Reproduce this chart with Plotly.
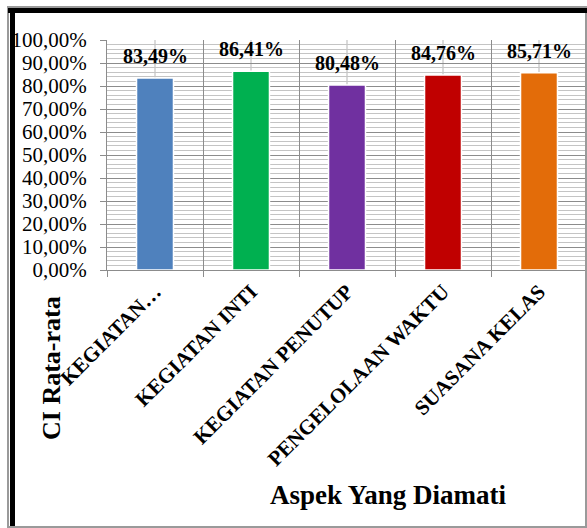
import plotly.graph_objects as go

categories = ["KEGIATAN…", "KEGIATAN INTI", "KEGIATAN PENUTUP", "PENGELOLAAN WAKTU", "SUASANA KELAS"]
values = [0.8349, 0.8641, 0.8048, 0.8476, 0.8571]
value_labels = ["83,49%", "86,41%", "80,48%", "84,76%", "85,71%"]
bar_colors = ["#4F81BD", "#00B050", "#7030A0", "#C00000", "#E36C09"]

W, H = 587, 528
ML, MR, MT, MB = 107, 0, 40, 258
PW, PH = W - ML - MR, H - MT - MB


def px(x):
    return (x - ML) / PW


def py(y):
    return (H - MB - y) / PH


SERIF = "Liberation Serif, Times New Roman, serif"

fig = go.Figure()
fig.add_trace(go.Bar(
    x=categories, y=values, width=0.385,
    marker=dict(color=bar_colors, line=dict(color="#ffffff", width=1.5)),
    hoverinfo="skip",
))

# data labels
for c, v, t in zip(categories, values, value_labels):
    fig.add_annotation(x=c, y=v, text="<b>%s</b>" % t, showarrow=False,
                       yanchor="middle", yshift=22,
                       font=dict(family=SERIF, size=20, color="black"))

shapes = []
# light vertical lines at category centres
for c in categories:
    shapes.append(dict(type="line", xref="x", yref="paper", x0=c, x1=c, y0=0, y1=1,
                       line=dict(color="#b5b5b5", width=1), layer="below"))
# frame
shapes.append(dict(type="rect", xref="paper", yref="paper",
                   x0=px(8), x1=px(586), y0=py(527), y1=py(7),
                   line=dict(color="#9a9a9a", width=2), layer="above"))
shapes.append(dict(type="rect", xref="paper", yref="paper",
                   x0=px(8), x1=px(587), y0=py(13), y1=py(8),
                   fillcolor="black", line=dict(width=0), layer="above"))
shapes.append(dict(type="rect", xref="paper", yref="paper",
                   x0=px(10), x1=px(15), y0=py(526), y1=py(8),
                   fillcolor="black", line=dict(width=0), layer="above"))

fig.add_annotation(xref="paper", yref="paper", x=px(51), y=py(368),
                   xanchor="center", yanchor="middle",
                   text="<b>CI Rata-rata</b>", textangle=-90, showarrow=False,
                   font=dict(family=SERIF, size=26, color="black"))
fig.add_annotation(xref="paper", yref="paper", x=px(388), y=py(495),
                   xanchor="center", yanchor="middle",
                   text="<b>Aspek Yang Diamati</b>", showarrow=False,
                   font=dict(family=SERIF, size=27, color="black"))

fig.update_layout(
    width=W, height=H,
    margin=dict(l=ML, r=MR, t=MT, b=MB),
    paper_bgcolor="white", plot_bgcolor="white",
    separators=",.",
    showlegend=False,
    shapes=shapes,
    bargap=0.6,
)
fig.update_xaxes(
    type="category", tickson="boundaries",
    showgrid=True, gridcolor="#8c8c8c", gridwidth=1,
    showline=True, linecolor="#8c8c8c", linewidth=1,
    ticks="outside", ticklen=6, tickcolor="#8c8c8c",
    tickangle=-45,
    tickfont=dict(family=SERIF, size=21, color="black", weight="bold"),
)
fig.update_yaxes(
    range=[0, 1], dtick=0.1, tickformat=".2%",
    showgrid=True, gridcolor="#8c8c8c", gridwidth=1,
    minor=dict(dtick=0.02, showgrid=True, gridcolor="#c4c4c4", gridwidth=1),
    showline=True, linecolor="#8c8c8c", linewidth=1,
    ticks="outside", ticklen=6, tickcolor="#8c8c8c",
    ticklabelstandoff=9,
    tickfont=dict(family=SERIF, size=21, color="black"),
    zeroline=False,
)

fig.write_html("out.html")
